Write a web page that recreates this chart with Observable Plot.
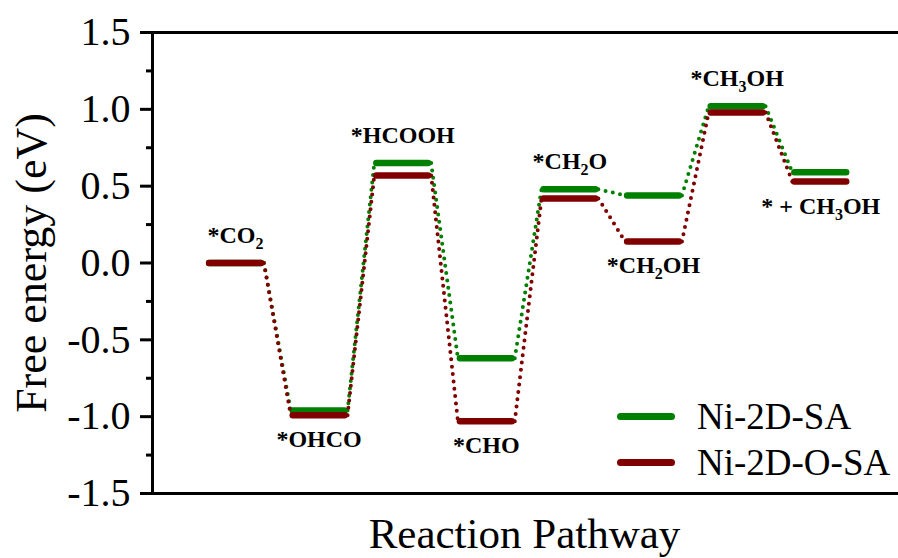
<!DOCTYPE html>
<html>
<head>
<meta charset="utf-8">
<script src="https://cdn.jsdelivr.net/npm/d3@7"></script>
<script src="https://cdn.jsdelivr.net/npm/@observablehq/plot@0.6"></script>
<style>
  html, body { margin: 0; padding: 0; background: #fff; }
  #wrap { position: relative; width: 898px; height: 558px; overflow: hidden; }
  #wrap svg text { font-family: "Liberation Serif", "Times New Roman", serif !important; }
  #legend { position: absolute; left: 617px; top: 393px; font-family: "Liberation Serif", "Times New Roman", serif; font-size: 37px; color: #000; }
  #legend .row { display: flex; align-items: center; height: 46px; }
  #legend .swatch { width: 58px; height: 7px; border-radius: 3.5px; margin-right: 22px; }
</style>
</head>
<body>
<div id="wrap"></div>
<script>
// Reaction intermediates along the CO2 -> CH3OH pathway ("_n" marks a subscript digit)
const steps = ["*CO_2", "*OHCO", "*HCOOH", "*CHO", "*CH_2O", "*CH_2OH", "*CH_3OH", "* + CH_3OH"];
// Free energy of each intermediate (eV)
const ni2dSA  = [0, -0.96, 0.65, -0.62, 0.48, 0.44, 1.02, 0.59];
const ni2dOSA = [0, -0.99, 0.57, -1.03, 0.42, 0.14, 0.98, 0.53];
const seriesNames = ["Ni-2D-SA", "Ni-2D-O-SA"];
const seriesColors = ["#008000", "#800000"];
// Axis ticks
const yTicks = [-1.5, -1.0, -0.5, 0.0, 0.5, 1.0, 1.5];
const yMinorTicks = [-1.25, -0.75, -0.25, 0.25, 0.75, 1.25];

const halfWidth = 0.31;   // half length of an energy level, in step units
const seriesValues = [ni2dSA, ni2dOSA];

const levels = [];
const links = [];
seriesValues.forEach((vals, s) => {
  vals.forEach((v, i) => {
    levels.push({s, i, v});
    if (i < vals.length - 1) {
      links.push({s, x1: i + halfWidth + 0.03, y1: v, x2: i + 1 - halfWidth - 0.03, y2: vals[i + 1]});
    }
  });
});

// Labels sit above the level on even steps and below it on odd steps
const labels = steps.map((name, i) => {
  const above = i % 2 === 0;
  const v = above ? Math.max(ni2dSA[i], ni2dOSA[i]) : Math.min(ni2dSA[i], ni2dOSA[i]);
  return {name, i, v, above};
});

const font = "'Liberation Serif', 'Times New Roman', serif";
const colorOf = s => seriesColors[s];

const marks = [];
seriesValues.forEach((_, s) => {
  marks.push(Plot.link(links.filter(d => d.s === s), {
    x1: "x1", y1: "y1", x2: "x2", y2: "y2",
    stroke: colorOf(s), strokeWidth: 4, strokeDasharray: "0 7.4", strokeLinecap: "round"
  }));
  marks.push(Plot.ruleY(levels.filter(d => d.s === s), {
    y: "v", x1: d => d.i - halfWidth, x2: d => d.i + halfWidth,
    stroke: colorOf(s), strokeWidth: 6.5, strokeLinecap: "round"
  }));
});

const labelStyle = {x: "i", y: "v", text: "name", lineAnchor: "bottom", fontSize: 24, fontWeight: "bold", fill: "#000"};

const chart = Plot.plot({
  width: 898,
  height: 558,
  marginLeft: 152,
  marginRight: 0,
  marginTop: 32,
  marginBottom: 65,
  style: {fontFamily: font, background: "#fff", color: "#000", overflow: "visible"},
  x: {domain: [-0.993, 7.93], axis: null},
  y: {domain: [-1.5, 1.5], axis: null},
  marks: [
    Plot.axisY(yMinorTicks, {tickSize: 6, strokeWidth: 3, tickFormat: () => "", label: null}),
    Plot.axisY(yTicks, {tickSize: 12, tickPadding: 10, strokeWidth: 3, fontSize: 40, tickFormat: d => d.toFixed(1), label: null}),
    Plot.frame({anchor: "left", strokeWidth: 3, strokeLinecap: "square"}),
    Plot.frame({anchor: "top", strokeWidth: 3, strokeLinecap: "square"}),
    Plot.frame({anchor: "bottom", strokeWidth: 3, strokeLinecap: "square"}),
    ...marks,
    Plot.text(labels.filter(d => d.above), {...labelStyle, dy: -20}),
    Plot.text(labels.filter(d => !d.above), {...labelStyle, dy: 32}),
    Plot.text(["Free energy (eV)"], {
      frameAnchor: "left", dx: -107, rotate: -90, textAnchor: "middle", lineAnchor: "bottom",
      fontSize: 44, fill: "#000", text: d => d
    }),
    Plot.text(["Reaction Pathway"], {
      frameAnchor: "bottom", dx: -1, dy: 54, textAnchor: "middle", lineAnchor: "bottom",
      fontSize: 43, fill: "#000", text: d => d
    })
  ]
});

// Turn "_n" into a lowered, smaller digit
d3.select(chart).selectAll("text").each(function () {
  const raw = this.textContent;
  if (!/_\d/.test(raw)) return;
  const parts = raw.split(/_(\d)/);
  const sel = d3.select(this);
  sel.text(null);
  let shifted = false;
  parts.forEach((p, k) => {
    if (!p) return;
    const t = sel.append("tspan").text(p);
    if (k % 2 === 1) {
      t.attr("font-size", 16).attr("dy", 6);
      shifted = true;
    } else if (shifted) {
      t.attr("dy", -6);
      shifted = false;
    }
  });
});

const wrap = document.getElementById("wrap");
wrap.appendChild(chart);

// Legend
const legend = d3.select(wrap).append("div").attr("id", "legend");
seriesNames.forEach((name, s) => {
  const row = legend.append("div").attr("class", "row");
  row.append("span").attr("class", "swatch").style("background", seriesColors[s]);
  row.append("span").text(name);
});
</script>
</body>
</html>
